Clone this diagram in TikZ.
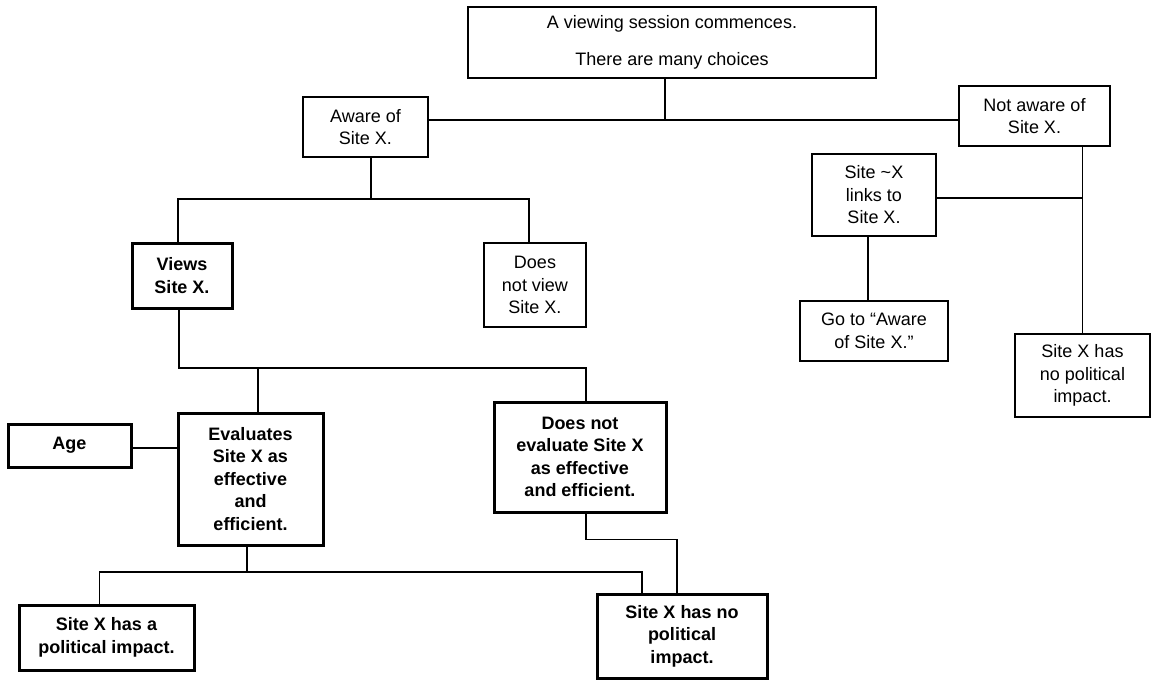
\documentclass[tikz,border=0pt]{standalone}
\usepackage{fontspec}
\setmainfont{Liberation Sans}

\begin{document}
\begin{tikzpicture}[x = 1pt, y = -1pt,
	every node/.style = {font = \fontsize{18}{22.5}\selectfont, align = center, inner sep = 0pt},
	thinbox/.style = {draw, line width = 1.1pt},
	thickbox/.style = {draw, line width = 3pt, font = \fontsize{18}{22.5}\selectfont\bfseries},
	link/.style = {line width = 1.1pt}]

	\useasboundingbox (0, 0) rectangle (1152, 680);

	% Boxes of the upper part
	
	\node [thinbox, minimum width = 408, minimum height = 71] (start) at (672, 42.5)
		{A viewing session commences.\\[14pt] There are many choices};
	\node [thinbox, minimum width = 125, minimum height = 60] (aware) at (365.5, 127) {Aware of\\ Site X.};
	\node [thinbox, minimum width = 151, minimum height = 60] (notaware) at (1034.5, 116) {Not aware of\\ Site X.};
	\node [thinbox, minimum width = 124, minimum height = 82] (links) at (874, 195) {Site \textasciitilde X\\ links to\\ Site X.};
	\node [thinbox, minimum width = 148, minimum height = 60] (goto) at (874, 331) {Go to ``Aware\\ of Site X.''};
	\node [thinbox, minimum width = 135, minimum height = 83] (noimpR) at (1082.5, 375.5) {Site X has\\ no political\\ impact.};
	\node [thinbox, minimum width = 102, minimum height = 84] (notview) at (535, 285) {Does\\ not view\\ Site X.};
	
	% Bold boxes
	
	\node [thickbox, minimum width = 100, minimum height = 65] (views) at (182, 275.5) {Views\\ Site X.};
	\node [thickbox, minimum width = 145, minimum height = 132] (evaluates) at (250.5, 479)
		{Evaluates\\ Site X as\\ effective\\ and\\ efficient.};
	\node [thickbox, minimum width = 123, minimum height = 43] (age) at (69.5, 445.5) {Age};
	\node [thickbox, minimum width = 172, minimum height = 110] (notevaluate) at (580, 457)
		{Does not\\ evaluate Site X\\ as effective\\ and efficient.};
	\node [thickbox, minimum width = 175, minimum height = 65] (impact) at (106.5, 637.5) {Site X has a\\ political impact.};
	\node [thickbox, minimum width = 170, minimum height = 84] (noimpL) at (682, 636) {Site X has no\\ political\\ impact.};
	
	% Connectors
	
	\coordinate (j1) at (665, 120);
	\coordinate (j2) at (371, 199);
	\coordinate (j3) at (258, 368);
	\coordinate (j4) at (247, 572);
	
	\begin{scope}[link]
	
		\draw (start.south -| j1) -- (j1);
		\draw (aware.east |- j1) -- (notaware.west |- j1);
		\draw (aware.south -| j2) -- (j2);
		\draw ([xshift = -4]views.north) |- (j2) -| ([xshift = -6]notview.north);
		\draw ([xshift = -3]views.south) |- ([xshift = 6]notevaluate.north |- j3) -- ([xshift = 6]notevaluate.north);
		\draw (j3) -- (evaluates.north -| j3);
		\draw (age.east |- 0, 448) -- (evaluates.west |- 0, 448);
		\draw (evaluates.south -| j4) -- (j4);
		\draw ([xshift = -7]impact.north) |- (j4) -| ([xshift = -40]noimpL.north);
		\draw ([xshift = 6]notevaluate.south) -- ++(0, 26) -| ([xshift = -5]noimpL.north);
		\draw (notaware.south -| noimpR.north) -- (noimpR.north);
		\draw (links.east |- 0, 198) -- (noimpR.north |- 0, 198);
		\draw ([xshift = -6]links.south) -- ([xshift = -6]goto.north);
	
	\end{scope}
	
\end{tikzpicture}
\end{document}
